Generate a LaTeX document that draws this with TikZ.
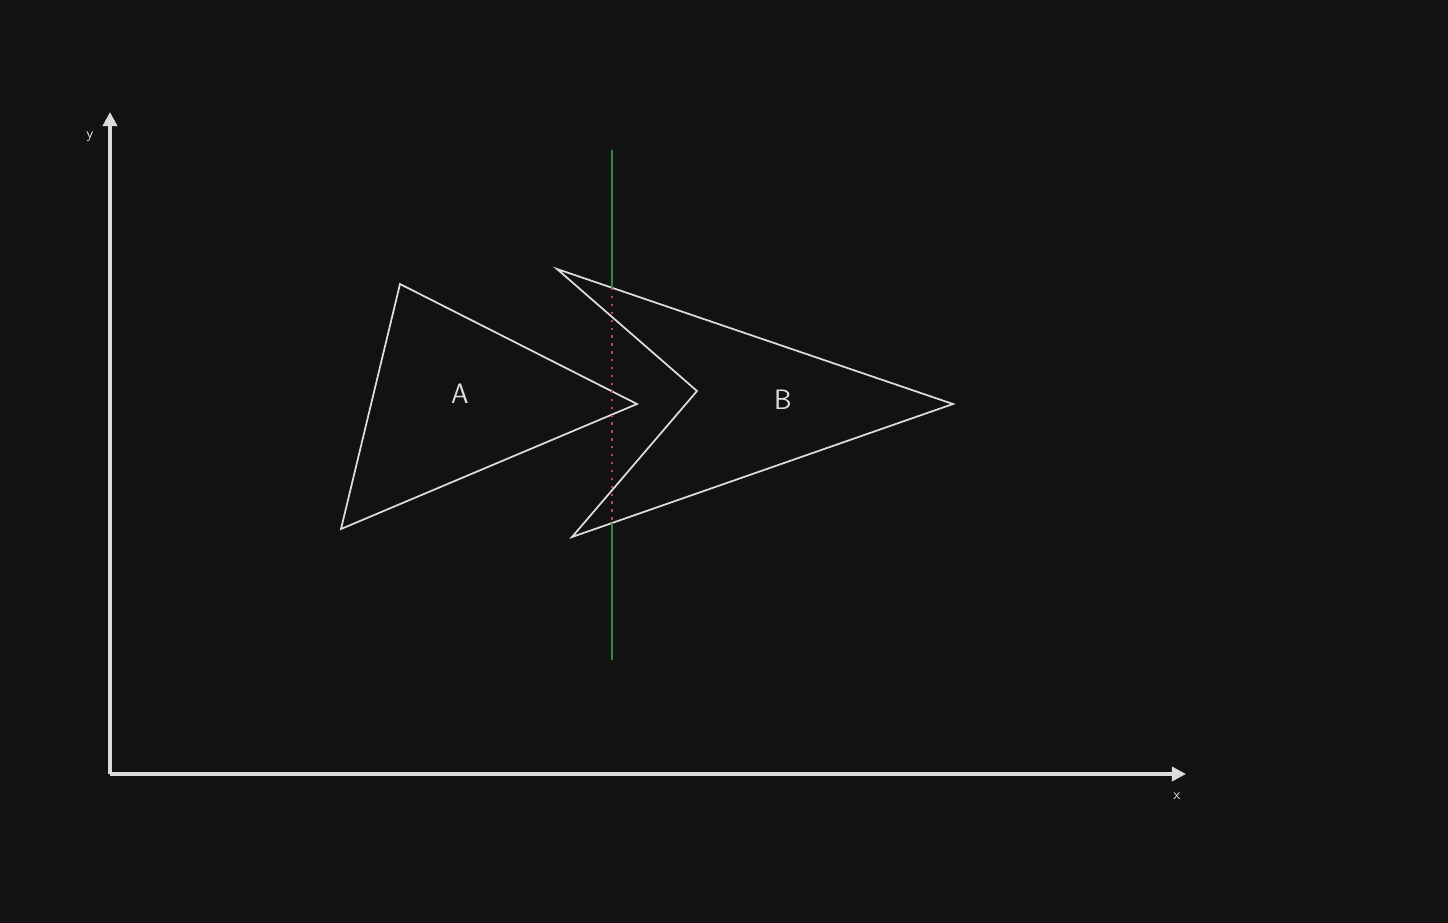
\documentclass[tikz,border=0pt]{standalone}
\usepackage{tikz}
\usepackage{xcolor}
\usetikzlibrary{arrows.meta,calc}
\definecolor{bgdark}{HTML}{121212}
\definecolor{inkgray}{HTML}{DCDCDC}
\definecolor{cutgreen}{HTML}{2F8A40}
\definecolor{cutred}{HTML}{B84646}
\tikzset{
  axisline/.style={draw=inkgray, line width=1.9pt, -{Triangle[length=8pt,width=8pt]}},
  shapeline/.style={draw=inkgray, line width=1pt, line join=miter},
  tag/.style={text=inkgray, font=\fontsize{16}{16}\selectfont\sffamily},
  axistag/.style={text=inkgray, font=\fontsize{8.5}{8.5}\selectfont\sffamily}
}
\begin{document}
\begin{tikzpicture}[x=0.02cm,y=-0.02cm]
\fill[bgdark] (0,0) rectangle (1448,923);
\useasboundingbox (0,0) rectangle (1448,923);
% axes
\coordinate (o) at (110,774);
\coordinate (ytip) at (110,112);
\coordinate (xtip) at (1186,774);
\draw[axisline] (o) -- (ytip);
\draw[axisline] (o) -- (xtip);
\node[axistag] (ylab) at (90,137) {y};
\node[axistag] (xlab) at (1177,796) {x};
% triangle A
\coordinate (a1) at (400,284);
\coordinate (a2) at (637,404);
\coordinate (a3) at (341,529);
\draw[shapeline] (a1) -- (a2) -- (a3) -- cycle;
\node[tag] (labA) at (460,394) {A};
% arrow shape B
\coordinate (b1) at (557,269);
\coordinate (b2) at (953,404);
\coordinate (b3) at (572,537);
\coordinate (b4) at (697,391);
\draw[shapeline] (b1) -- (b2) -- (b3) -- (b4) -- cycle;
\node[tag] (labB) at (783,400) {B};
% separating line
\coordinate (sTop) at (612,150);
\coordinate (sIn) at (612,288);
\coordinate (sOut) at (612,523);
\coordinate (sBot) at (612,660);
\draw[cutgreen, line width=1pt] (sTop) -- (sIn);
\draw[cutgreen, line width=1pt] (sOut) -- (sBot);
\draw[cutred, line width=1.3pt, dash pattern=on 1.3pt off 3.2pt] (sIn) -- (sOut);
\end{tikzpicture}
\end{document}
